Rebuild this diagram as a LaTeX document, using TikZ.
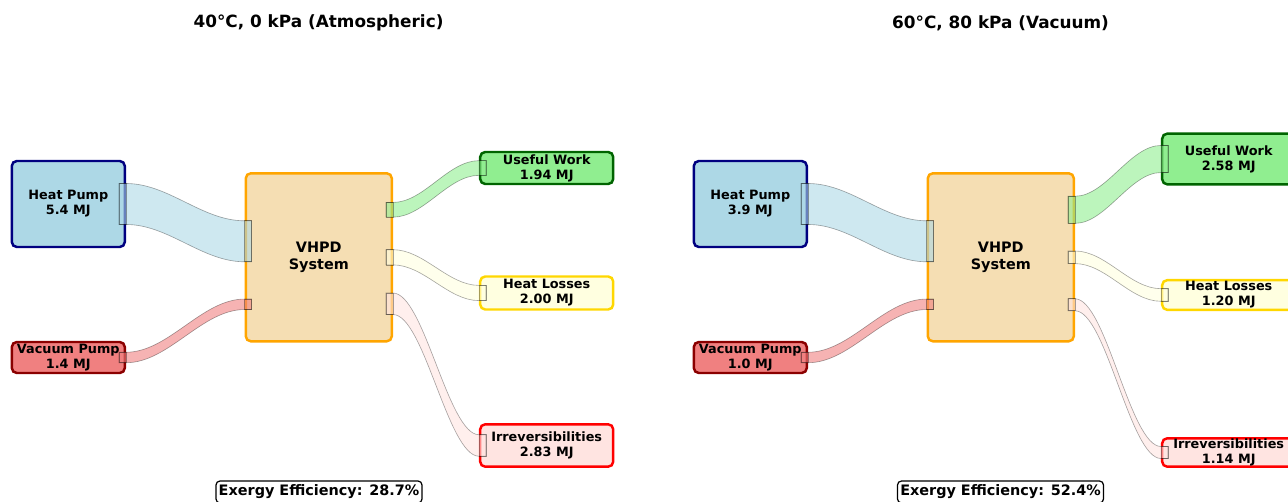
\documentclass[tikz,border=0pt]{standalone}
\usepackage{fontspec}
\setmainfont{DejaVu Sans}
\usepackage{xcolor}
\usepackage{tikz}
\usetikzlibrary{calc}
\definecolor{hpFill}{HTML}{ADD8E6}
\definecolor{hpLine}{HTML}{000080}
\definecolor{vpFill}{HTML}{F08080}
\definecolor{vpLine}{HTML}{8B0000}
\definecolor{sysFill}{HTML}{F5DEB3}
\definecolor{sysLine}{HTML}{FFA500}
\definecolor{uwFill}{HTML}{90EE90}
\definecolor{uwLine}{HTML}{006400}
\definecolor{hlFill}{HTML}{FFFFE0}
\definecolor{hlLine}{HTML}{FFD700}
\definecolor{irFill}{HTML}{FFE4E1}
\definecolor{irLine}{HTML}{FF0000}

% band between two points: colour, from, to, width at start, width at end (px)
\newcommand{\flowband}[5]{%
  \coordinate (fs) at (#2);
  \coordinate (ft) at (#3);
  \coordinate (fa) at ($(fs)!0.36!(ft)$);
  \coordinate (fb) at ($(fs)!0.64!(ft)$);
  \coordinate (s1) at ($(fs)+(0,-#4/2)$);
  \coordinate (s2) at ($(fs)+(0,#4/2)$);
  \coordinate (t1) at ($(ft)+(0,-#5/2)$);
  \coordinate (t2) at ($(ft)+(0,#5/2)$);
  \filldraw[band, fill=#1] ($(s1)+(-7,0)$) -- (s1)
    .. controls (s1 -| fa) and (t1 -| fb) .. (t1) -- ($(t1)+(7,0)$)
    -- ($(t2)+(7,0)$) -- (t2)
    .. controls (t2 -| fb) and (s2 -| fa) .. (s2) -- ($(s2)+(-7,0)$) -- cycle;
  \draw[bandend] ($(s1)+(-7,0)$) rectangle (s2);
  \draw[bandend] (t1) rectangle ($(t2)+(7,0)$);
}

\begin{document}
\begin{tikzpicture}[x=0.02cm, y=-0.02cm,
    box/.style 2 args={draw, line width=1.4pt, rounded corners=0.1cm, align=center,
        minimum width=#1*0.02cm, minimum height=#2*0.02cm, inner sep=0pt,
        font=\bfseries\fontsize{7.3}{8.6}\selectfont},
    band/.style={fill opacity=0.6, draw=black, draw opacity=0.35, line width=0.35pt},
    bandend/.style={draw=black, draw opacity=0.35, line width=0.35pt},
    title/.style={font=\bfseries\fontsize{9.6}{11}\selectfont},
    effbox/.style={draw, fill=white, line width=0.7pt, rounded corners=0.08cm,
        minimum width=206*0.02cm, minimum height=22*0.02cm, inner sep=0pt,
        font=\bfseries\fontsize{8.2}{9.8}\selectfont}]
    \useasboundingbox (0,0) rectangle (1288,502);

    % left: 40 C, atmospheric
    \node[title] (Ltitle) at (318.5,23) {40°C, 0 kPa (Atmospheric)};
    \node[box={113}{86}, fill=hpFill, draw=hpLine] (Lhp) at (68.3,204) {Heat Pump\\5.4 MJ};
    \node[box={113}{31}, fill=vpFill, draw=vpLine] (Lvp) at (68.3,357.5) {Vacuum Pump\\1.4 MJ};
    \node[box={146}{168}, fill=sysFill, draw=sysLine,
        font=\bfseries\fontsize{8.2}{9.3}\selectfont] (Lsys) at (318.8,257.3) {VHPD\\System};
    \node[box={133}{32}, fill=uwFill, draw=uwLine] (Luw) at (546.7,168) {Useful Work\\1.94 MJ};
    \node[box={133}{33}, fill=hlFill, draw=hlLine] (Lhl) at (546.7,293) {Heat Losses\\2.00 MJ};
    \node[box={133}{42.4}, fill=irFill, draw=irLine] (Lir) at (546.7,445.5) {Irreversibilities\\2.83 MJ};
    \flowband{hpFill}{Lhp.east}{$(Lsys.west)+(0,-16)$}{41}{41}
    \flowband{vpFill}{Lvp.east}{$(Lsys.west)+(0,47)$}{10.5}{10.5}
    \flowband{uwFill}{$(Lsys.east)+(0,-47.5)$}{Luw.west}{14.7}{14.7}
    \flowband{hlFill}{Lsys.east}{Lhl.west}{15.2}{15.2}
    \flowband{irFill}{$(Lsys.east)+(0,46.5)$}{Lir.west}{21.5}{21.5}
    \node[effbox] (Leff) at (319,492) {Exergy Efficiency: 28.7\%};

    % right: 60 C, vacuum
    \node[title] (Rtitle) at (1000.5,23) {60°C, 80 kPa (Vacuum)};
    \node[box={113}{86}, fill=hpFill, draw=hpLine] (Rhp) at (750.3,204) {Heat Pump\\3.9 MJ};
    \node[box={113}{31}, fill=vpFill, draw=vpLine] (Rvp) at (750.3,357.5) {Vacuum Pump\\1.0 MJ};
    \node[box={146}{168}, fill=sysFill, draw=sysLine,
        font=\bfseries\fontsize{8.2}{9.3}\selectfont] (Rsys) at (1000.8,257.3) {VHPD\\System};
    \node[box={133}{50.7}, fill=uwFill, draw=uwLine] (Ruw) at (1228.7,159) {Useful Work\\2.58 MJ};
    \node[box={133}{29.7}, fill=hlFill, draw=hlLine] (Rhl) at (1228.7,295) {Heat Losses\\1.20 MJ};
    \node[box={133}{28.4}, fill=irFill, draw=irLine] (Rir) at (1228.7,452.5) {Irreversibilities\\1.14 MJ};
    \flowband{hpFill}{Rhp.east}{$(Rsys.west)+(0,-16)$}{41}{41}
    \flowband{vpFill}{Rvp.east}{$(Rsys.west)+(0,47)$}{10.5}{10.5}
    \flowband{uwFill}{$(Rsys.east)+(0,-47.5)$}{Ruw.west}{27.1}{27.1}
    \flowband{hlFill}{Rsys.east}{Rhl.west}{12.6}{12.6}
    \flowband{irFill}{$(Rsys.east)+(0,47.5)$}{Rir.west}{12}{12}
    \node[effbox] (Reff) at (1000.5,492) {Exergy Efficiency: 52.4\%};
\end{tikzpicture}
\end{document}
